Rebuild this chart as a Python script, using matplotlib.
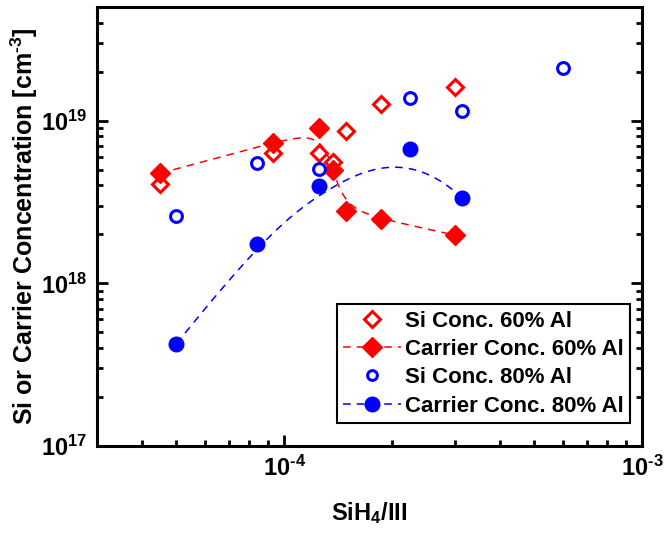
import numpy as np
import matplotlib.pyplot as plt
from matplotlib.ticker import LogLocator, NullFormatter, FuncFormatter

plt.rcParams['font.family'] = ['Liberation Sans', 'DejaVu Sans']
plt.rcParams['font.weight'] = 'bold'
plt.rcParams['mathtext.fontset'] = 'custom'
plt.rcParams['mathtext.rm'] = 'Liberation Sans:bold'
plt.rcParams['mathtext.bf'] = 'Liberation Sans:bold'
plt.rcParams['mathtext.default'] = 'bf'

# Si concentration, 60% Al
si60_x = [4.5e-5, 9.3e-5, 1.25e-4, 1.37e-4, 1.49e-4, 1.87e-4, 3.0e-4]
si60_y = [4.1e18, 6.35e18, 6.3e18, 5.6e18, 8.7e18, 1.27e19, 1.62e19]
# carrier concentration, 60% Al
cc60_x = [4.5e-5, 9.3e-5, 1.25e-4, 1.37e-4, 1.49e-4, 1.87e-4, 3.0e-4]
cc60_y = [4.75e18, 7.3e18, 9.05e18, 5.0e18, 2.8e18, 2.48e18, 1.98e18]
# Si concentration, 80% Al
si80_x = [5.0e-5, 8.4e-5, 1.25e-4, 2.25e-4, 3.14e-4, 6.0e-4]
si80_y = [2.6e18, 5.5e18, 5.05e18, 1.37e19, 1.15e19, 2.12e19]
# carrier concentration, 80% Al
cc80_x = [5.0e-5, 8.4e-5, 1.25e-4, 2.25e-4, 3.14e-4]
cc80_y = [4.25e17, 1.75e18, 3.95e18, 6.7e18, 3.35e18]


def bspline(xs, ys, n=200, k=3):
    # clamped B-spline in log-log space, points used as control points
    P = np.column_stack([np.log10(xs), np.log10(ys)])
    m = len(P)
    k = min(k, m - 1)
    inner = np.linspace(0, 1, m - k + 1)[1:-1]
    t = np.concatenate([np.zeros(k + 1), inner, np.ones(k + 1)])
    us = np.linspace(0, 1, n)
    out = []
    for u in us:
        # Cox-de Boor basis
        N = np.zeros(len(t) - 1)
        for i in range(len(t) - 1):
            if t[i] <= u < t[i + 1] or (u == 1 and t[i] < t[i + 1] == 1):
                N[i] = 1.0
        for d in range(1, k + 1):
            Nn = np.zeros(len(t) - 1 - d)
            for i in range(len(Nn)):
                a = 0.0
                if t[i + d] > t[i]:
                    a = (u - t[i]) / (t[i + d] - t[i]) * N[i]
                b = 0.0
                if t[i + d + 1] > t[i + 1]:
                    b = (t[i + d + 1] - u) / (t[i + d + 1] - t[i + 1]) * N[i + 1]
                Nn[i] = a + b
            N = Nn
        out.append(N @ P)
    out = np.array(out)
    return 10 ** out[:, 0], 10 ** out[:, 1]


def pow10(v, pos):
    e = int(round(np.log10(v)))
    s = str(e).replace('-', r'\text{-}')
    return r'$\mathbf{10^{%s}}$' % s


fig = plt.figure(figsize=(6.67, 5.36), dpi=100)
ax = fig.add_axes([97 / 667, 1 - 446 / 536, 545 / 667, 439 / 536])

red = '#ff0000'
blue = '#0000ff'

lx, ly = bspline(cc60_x, cc60_y)
ax.plot(lx, ly, '--', color=red, lw=1.1, dashes=(5, 4))
lx, ly = bspline(cc80_x, cc80_y)
ax.plot(lx, ly, '--', color=blue, lw=1.1, dashes=(5, 4))

ax.plot(si60_x, si60_y, 'D', ms=8.5, mfc='white', mec=red, mew=2.2, ls='none')
ax.plot(cc60_x, cc60_y, 'D', ms=10, color=red, ls='none')
ax.plot(si80_x, si80_y, 'o', ms=8.5, mfc='white', mec=blue, mew=2.2, ls='none')
ax.plot(cc80_x, cc80_y, 'o', ms=10.5, color=blue, ls='none')

# legend handles
h1, = ax.plot([], [], 'D', ms=8.5, mfc='white', mec=red, mew=2.2, ls='none')
h2, = ax.plot([], [], 'D', ms=10, color=red, ls='--', lw=1.1, dashes=(5, 4))
h3, = ax.plot([], [], 'o', ms=7, mfc='white', mec=blue, mew=2.2, ls='none')
h4, = ax.plot([], [], 'o', ms=10.5, color=blue, ls='--', lw=1.1, dashes=(5, 4))
leg = ax.legend([h1, h2, h3, h4],
                ['Si Conc. 60% Al', 'Carrier Conc. 60% Al',
                 'Si Conc. 80% Al', 'Carrier Conc. 80% Al'],
                loc='lower right', bbox_to_anchor=(0.978, 0.052),
                fancybox=False, edgecolor='black', framealpha=1,
                prop={'size': 16, 'weight': 'bold'},
                handlelength=2.6, handletextpad=0.15, labelspacing=0.33,
                borderpad=0.3, borderaxespad=0)
leg.get_frame().set_linewidth(1.5)

ax.set_xscale('log')
ax.set_yscale('log')
ax.set_xlim(3e-5, 1e-3)
ax.set_ylim(1e17, 5e19)

ax.xaxis.set_major_locator(LogLocator(base=10, numticks=10))
ax.xaxis.set_major_formatter(FuncFormatter(pow10))
ax.xaxis.set_minor_locator(LogLocator(base=10, subs=np.arange(2, 10), numticks=10))
ax.xaxis.set_minor_formatter(NullFormatter())
ax.yaxis.set_major_formatter(FuncFormatter(pow10))
ax.yaxis.set_minor_locator(LogLocator(base=10, subs=np.arange(2, 10), numticks=10))
ax.yaxis.set_minor_formatter(NullFormatter())

for s in ax.spines.values():
    s.set_linewidth(2.2)
ax.tick_params(which='both', direction='in', top=False, right=True, width=2)
ax.tick_params(which='major', length=8, labelsize=17, pad=7)
ax.tick_params(which='minor', length=4.5)

ax.set_xlabel(r'SiH$_\mathbf{4}$/III', fontsize=17, fontweight='bold', labelpad=14)
ax.set_ylabel(r'Si or Carrier Concentration [cm$^{\text{-}3}$]', fontsize=18,
              fontweight='bold', labelpad=1)

fig.savefig('out.png', dpi=100)
